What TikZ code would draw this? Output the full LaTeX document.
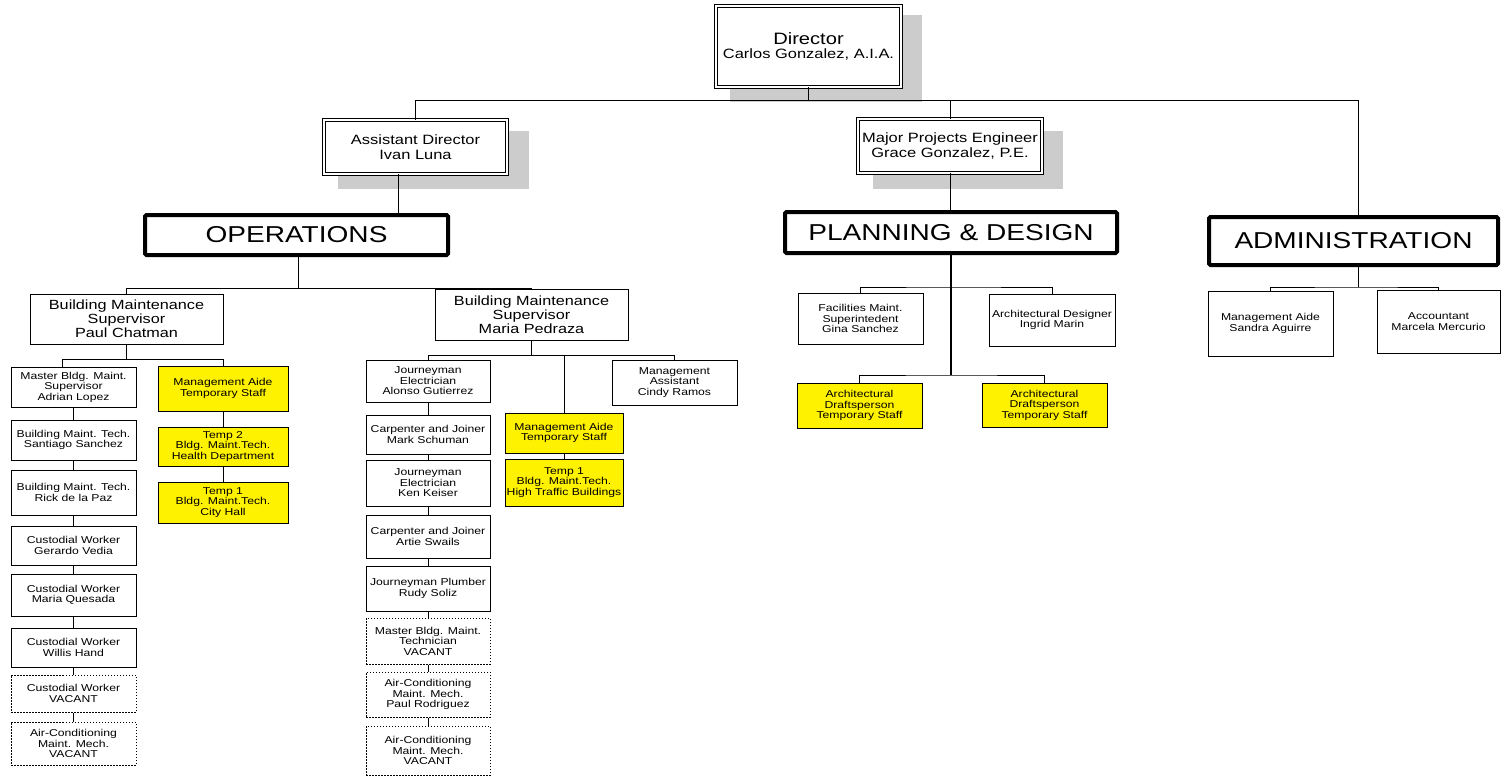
\documentclass[tikz,border=0pt]{standalone}
\usepackage{fontspec}
\setmainfont{Liberation Sans}[FakeStretch=1.22]
\usetikzlibrary{calc}
\definecolor{shadowc}{RGB}{204,204,204}
\newcommand\bx[7]{\node[#6, minimum width={#4-#2}, minimum height={#5-#3}] (#1) at ({(#2+#4)/2},{(#3+#5)/2}) {#7};}
\begin{document}
\begin{tikzpicture}[x=1pt,y=-1pt,
  box/.style={draw, line width=1pt, align=center, inner sep=0pt, fill=white, font=\fontsize{10}{10.5}\selectfont},
  vac/.style={box, dash pattern=on 1.5pt off 1.5pt},
  tmp/.style={box, fill=yellow},
  supbox/.style={box, font=\fontsize{13.3}{14}\selectfont},
  execbox/.style={draw, double, double distance=1.6pt, line width=0.9pt, fill=white, align=center, inner sep=0pt, font=\fontsize{13.5}{15}\selectfont},
  headbox/.style={draw, line width=4pt, rounded corners=1.5pt, fill=white, inner sep=0pt, font=\fontsize{23}{24}\selectfont},
  conn/.style={line width=1pt},
  trunk/.style={line width=2pt}]
\useasboundingbox (0,0) rectangle (1502,777);
% shadows
\fill[shadowc] (730,15) rectangle (922,102);
\fill[shadowc] (338,131) rectangle (529,189);
\fill[shadowc] (873,131) rectangle (1063,189);
% executive boxes
\bx{dir}{716}{6}{901}{87}{execbox}{{\fontsize{16.5}{16}\selectfont Director}\\[-1pt]Carlos Gonzalez, A.I.A.}
\bx{asst}{324}{120}{507}{174}{execbox}{Assistant Director\\Ivan Luna}
\bx{mpe}{858}{119}{1042}{173}{execbox}{Major Projects Engineer\\Grace Gonzalez, P.E.}
% headings
\bx{ops}{145}{215}{448}{255}{headbox}{OPERATIONS}
\bx{pd}{785}{212}{1117}{253}{headbox}{PLANNING \& DESIGN}
\bx{adm}{1209}{217}{1498}{265}{headbox}{ADMINISTRATION}
% operations - Paul Chatman
\bx{paul}{30}{294}{223}{344}{supbox}{Building Maintenance\\Supervisor\\Paul Chatman}
\bx{l1}{11}{367}{136}{407}{box}{Master Bldg. Maint.\\Supervisor\\Adrian Lopez}
\bx{l2}{11}{420}{136}{460}{box}{Building Maint. Tech.\\Santiago Sanchez}
\bx{l3}{11}{470}{136}{515}{box}{Building Maint. Tech.\\Rick de la Paz}
\bx{l4}{11}{526}{136}{565}{box}{Custodial Worker\\Gerardo Vedia}
\bx{l5}{11}{574}{136}{616}{box}{Custodial Worker\\Maria Quesada}
\bx{l6}{11}{628}{136}{667}{box}{Custodial Worker\\Willis Hand}
\bx{l7}{11}{675}{136}{712}{vac}{Custodial Worker\\VACANT}
\bx{l8}{11}{722}{136}{765}{vac}{Air-Conditioning\\Maint. Mech.\\VACANT}
\bx{y1}{158}{366}{288}{411}{tmp}{Management Aide\\Temporary Staff}
\bx{y2}{158}{427}{288}{466}{tmp}{Temp 2\\Bldg. Maint.Tech.\\Health Department}
\bx{y3}{158}{482}{288}{523}{tmp}{Temp 1\\Bldg. Maint.Tech.\\City Hall}
% operations - Maria Pedraza
\bx{maria}{435}{289}{628}{340}{supbox}{Building Maintenance\\Supervisor\\Maria Pedraza}
\bx{m1}{366}{360}{490}{402}{box}{Journeyman\\Electrician\\Alonso Gutierrez}
\bx{m2}{366}{415}{490}{454}{box}{Carpenter and Joiner\\Mark Schuman}
\bx{m3}{366}{460}{490}{506}{box}{Journeyman\\Electrician\\Ken Keiser}
\bx{m4}{366}{515}{490}{558}{box}{Carpenter and Joiner\\Artie Swails}
\bx{m5}{366}{566}{490}{611}{box}{Journeyman Plumber\\Rudy Soliz}
\bx{m6}{366}{618}{490}{664}{vac}{Master Bldg. Maint.\\Technician\\VACANT}
\bx{m7}{366}{672}{490}{717}{vac}{Air-Conditioning\\Maint. Mech.\\Paul Rodriguez}
\bx{m8}{366}{726}{490}{775}{vac}{Air-Conditioning\\Maint. Mech.\\VACANT}
\bx{my1}{505}{413}{623}{453}{tmp}{Management Aide\\Temporary Staff}
\bx{my2}{505}{459}{623}{506}{tmp}{Temp 1\\Bldg. Maint.Tech.\\High Traffic Buildings}
\bx{mas}{612}{360}{737}{405}{box}{Management\\Assistant\\Cindy Ramos}
% planning & design
\bx{fac}{798}{293}{923}{344}{box}{Facilities Maint.\\Superintedent\\Gina Sanchez}
\bx{ard}{989}{294}{1115}{346}{box}{Architectural Designer\\Ingrid Marin}
\bx{pt1}{797}{383}{922}{428}{tmp}{Architectural\\Draftsperson\\Temporary Staff}
\bx{pt2}{982}{383}{1107}{427}{tmp}{Architectural\\Draftsperson\\Temporary Staff}
% administration
\bx{sa}{1208}{291}{1333}{356}{box}{Management Aide\\Sandra Aguirre}
\bx{mm}{1377}{290}{1500}{353}{box}{Accountant\\Marcela Mercurio}
% connectors - top
\coordinate (h1) at (1358,100);
\draw[conn] (dir.south) -- (dir.south |- h1);
\draw[conn] (asst.north) |- (h1) -- (h1 |- adm.north);
\draw[conn] (mpe.north) -- (mpe.north |- h1);
\draw[conn] ([xshift=-17pt]asst.south) -- ([xshift=-17pt]asst.south |- ops.north);
\draw[conn] (mpe.south) -- (mpe.south |- pd.north);
% operations
\draw[conn] ([xshift=2pt]ops.south) -- ([xshift=2pt]ops.south |- maria.north);
\draw[conn] (paul.north) |- (maria.north);
\draw[conn] (paul.south) -- ++(0,15) coordinate (pj);
\draw[conn] ([xshift=-11.5pt]l1.north) |- (pj) -| (y1.north);
\foreach \a/\b in {l1/l2,l2/l3,l3/l4,l4/l5,l5/l6,l6/l7,l7/l8,y1/y2,y2/y3,m1/m2,m2/m3,m3/m4,m4/m5,m5/m6,m6/m7,m7/m8,my1/my2}
  \draw[conn] (\a.south) -- (\b.north);
\draw[conn] (maria.south) -- ++(0,15) coordinate (mj);
\draw[conn] (m1.north) |- (mj) -| (mas.north);
\draw[conn] (my1.north) -- (my1.north |- mj);
% planning
\coordinate (pa) at (951,287);
\coordinate (pb) at (951,375);
\draw[trunk] (pd.south) -- (pd.south |- pb);
\draw[conn] (fac.north) |- (pa) -| (ard.north);
\draw[conn] (pt1.north) |- (pb) -| (pt2.north);
% administration
\draw[conn] ([xshift=4.5pt]adm.south) -- ++(0,20) coordinate (aj);
\draw[conn] (sa.north) |- (aj) -| (mm.north);
\end{tikzpicture}
\end{document}
